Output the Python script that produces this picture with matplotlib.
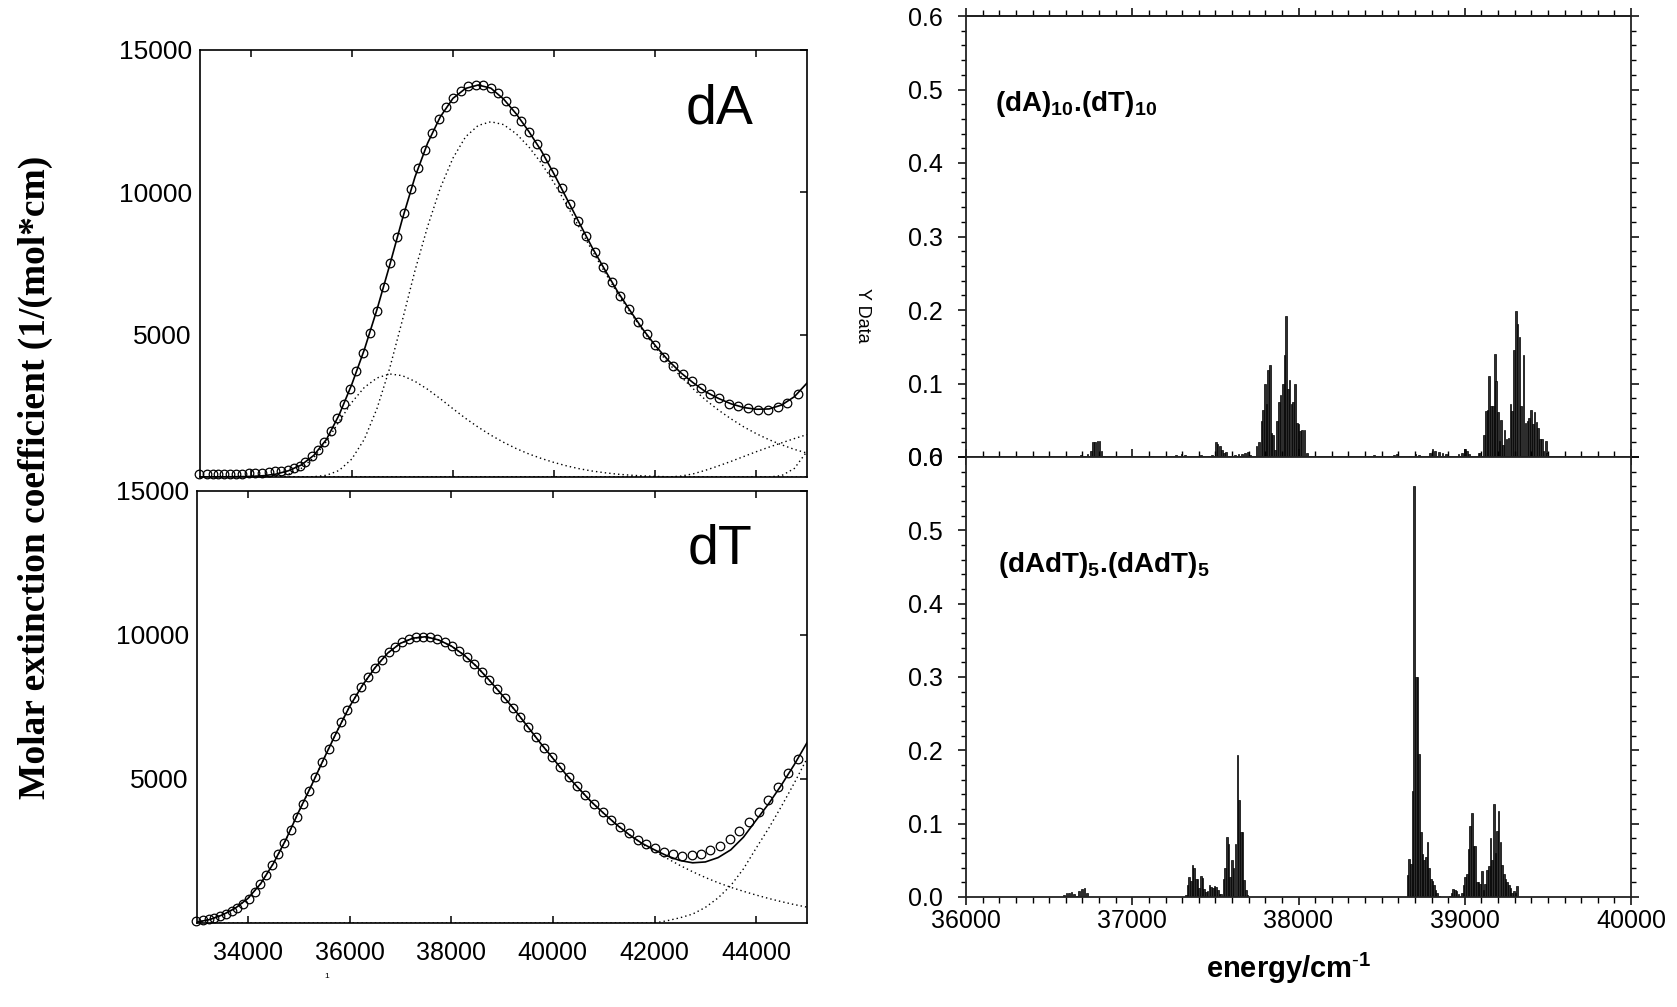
import matplotlib
matplotlib.use('Agg')
import matplotlib.pyplot as plt
from matplotlib.ticker import MultipleLocator, FormatStrFormatter

plt.rcParams['font.family'] = ['Liberation Sans', 'DejaVu Sans']
plt.rcParams['mathtext.fontset'] = 'custom'
plt.rcParams['mathtext.rm'] = 'Liberation Sans'
plt.rcParams['mathtext.bf'] = 'Liberation Sans:bold'
plt.rcParams['mathtext.it'] = 'Liberation Sans:italic'

# ---------------- data: left panels ----------------
dA_x = [32990, 33130, 33250, 33360, 33480, 33600, 33720, 33840, 33960, 34090, 34230, 34360, 34480, 34610,
        34730, 34860, 34970, 35080, 35210, 35340, 35460, 35580, 35710, 35840, 35960, 36090, 36230, 36360,
        36490, 36630, 36760, 36900, 37040, 37170, 37310, 37450, 37590, 37730, 37870, 38010, 38150, 38300,
        38450, 38600, 38750, 38900, 39050, 39200, 39350, 39510, 39670, 39830, 39980, 40150, 40310, 40470,
        40640, 40800, 40970, 41140, 41310, 41480, 41650, 41830, 42000, 42180, 42350, 42540, 42720, 42900,
        43080, 43260, 43450, 43640, 43830, 44030, 44220, 44420, 44610, 44820]
dA_y = [120, 120, 120, 120, 120, 120, 120, 120, 140, 140, 140, 160, 200, 220, 260, 310, 400, 520, 740, 950,
        1240, 1630, 2080, 2550, 3100, 3710, 4360, 5060, 5840, 6670, 7520, 8430, 9290, 10100, 10870, 11500,
        12100, 12580, 12990, 13310, 13570, 13720, 13770, 13770, 13660, 13480, 13200, 12870, 12500, 12120,
        11690, 11210, 10700, 10140, 9580, 9010, 8450, 7910, 7370, 6860, 6360, 5900, 5430, 5010, 4620, 4230,
        3900, 3620, 3360, 3130, 2930, 2780, 2580, 2490, 2410, 2370, 2370, 2470, 2600, 2930]

dT_x = [32990, 33110, 33230, 33330, 33450, 33570, 33690, 33790, 33900, 34020, 34140, 34240, 34360, 34480,
        34600, 34710, 34840, 34960, 35080, 35210, 35330, 35460, 35590, 35710, 35840, 35960, 36090, 36230,
        36360, 36500, 36630, 36770, 36900, 37040, 37170, 37310, 37440, 37580, 37720, 37870, 38010, 38150,
        38310, 38450, 38600, 38750, 38900, 39060, 39210, 39360, 39510, 39670, 39830, 39980, 40150, 40310,
        40480, 40640, 40810, 40980, 41150, 41330, 41500, 41670, 41840, 42010, 42190, 42360, 42540, 42730,
        42910, 43100, 43290, 43480, 43670, 43860, 44050, 44240, 44430, 44630, 44820]
dT_y = [60, 110, 140, 180, 240, 310, 400, 520, 660, 850, 1080, 1340, 1670, 2000, 2380, 2790, 3220, 3690,
        4140, 4600, 5080, 5580, 6050, 6490, 6970, 7400, 7810, 8180, 8530, 8850, 9140, 9400, 9590, 9740,
        9850, 9920, 9940, 9920, 9850, 9750, 9610, 9440, 9240, 9000, 8730, 8440, 8130, 7810, 7480, 7150,
        6800, 6450, 6080, 5750, 5410, 5080, 4770, 4440, 4120, 3840, 3590, 3340, 3110, 2890, 2730, 2590,
        2460, 2380, 2340, 2350, 2410, 2520, 2690, 2910, 3180, 3490, 3870, 4280, 4730, 5200, 5690]

grid = [33000, 33250, 33500, 33750, 34000, 34250, 34500, 34750, 35000, 35250, 35500, 35750, 36000, 36250,
        36500, 36750, 37000, 37250, 37500, 37750, 38000, 38250, 38500, 38750, 39000, 39250, 39500, 39750,
        40000, 40250, 40500, 40750, 41000, 41250, 41500, 41750, 42000, 42250, 42500, 42750, 43000, 43250,
        43500, 43750, 44000, 44250, 44500, 44750, 45000]

dA_fit = [0, 2, 5, 10, 20, 45, 100, 220, 420, 760, 1320, 2180, 3250, 4480, 5890, 7440, 9060, 10540, 11730,
          12650, 13300, 13650, 13770, 13660, 13280, 12760, 12140, 11450, 10640, 9780, 8920, 8070, 7290, 6530,
          5850, 5200, 4620, 4110, 3670, 3310, 2990, 2760, 2570, 2440, 2380, 2390, 2530, 2820, 3300]
dA_c1 = [0, 0, 0, 0, 0, 0, 20, 100, 300, 680, 1250, 1950, 2620, 3150, 3480, 3620, 3560, 3360, 3080, 2750,
         2400, 2060, 1750, 1470, 1220, 1000, 810, 650, 510, 390, 290, 210, 150, 100, 65, 40, 22, 10, 4, 0, 0,
         0, 0, 0, 0, 0, 0, 0, 0]
dA_c2 = [0, 0, 0, 0, 0, 0, 0, 0, 0, 10, 60, 230, 630, 1330, 2410, 3820, 5500, 7250, 8800, 10150, 11200,
         11950, 12350, 12480, 12380, 12060, 11600, 11020, 10330, 9560, 8760, 7960, 7200, 6470, 5800, 5160,
         4560, 4020, 3540, 3100, 2700, 2350, 2040, 1760, 1520, 1310, 1130, 970, 840]
dA_c3 = [0, 0, 0, 0, 0, 0, 0, 0, 0, 0, 0, 0, 0, 0, 0, 0, 0, 0, 0, 0, 0, 0, 0, 0, 0, 0, 0, 0, 0, 0, 0, 0,
         0, 0, 0, 0, 0, 0, 30, 110, 240, 390, 550, 720, 890, 1050, 1200, 1350, 1490]
dA_c4 = [0, 0, 0, 0, 0, 0, 0, 0, 0, 0, 0, 0, 0, 0, 0, 0, 0, 0, 0, 0, 0, 0, 0, 0, 0, 0, 0, 0, 0, 0, 0, 0,
         0, 0, 0, 0, 0, 0, 0, 0, 0, 0, 0, 0, 0, 0, 50, 300, 900]

dT_fit = [30, 120, 280, 510, 850, 1360, 2060, 2900, 3860, 4770, 5720, 6640, 7510, 8240, 8860, 9370, 9710,
          9890, 9940, 9830, 9620, 9310, 8910, 8430, 7920, 7400, 6830, 6260, 5720, 5180, 4690, 4220, 3810,
          3420, 3070, 2770, 2540, 2330, 2170, 2090, 2120, 2270, 2540, 2980, 3570, 4150, 4800, 5500, 6260]
dT_c1 = [30, 120, 280, 510, 850, 1360, 2060, 2900, 3860, 4770, 5720, 6640, 7510, 8240, 8860, 9370, 9710,
         9890, 9940, 9830, 9620, 9310, 8910, 8430, 7920, 7400, 6830, 6260, 5720, 5180, 4690, 4220, 3810,
         3420, 3070, 2750, 2490, 2240, 2000, 1780, 1580, 1400, 1240, 1100, 970, 850, 740, 640, 550]
dT_c2 = [0, 0, 0, 0, 0, 0, 0, 0, 0, 0, 0, 0, 0, 0, 0, 0, 0, 0, 0, 0, 0, 0, 0, 0, 0, 0, 0, 0, 0, 0, 0, 0,
         0, 0, 0, 0, 0, 80, 180, 310, 540, 870, 1300, 1880, 2600, 3300, 4060, 4860, 5710]

left_xticks = [34000, 36000, 38000, 40000, 42000, 44000]
left_yticks = [5000, 10000, 15000]

# ---------------- data: right panels (stick spectra) ----------------
top_x = [36660, 36690, 36710, 36730, 36750, 36765, 36777, 36790, 36803, 36816, 36830,
         36960, 37000, 37120, 37210, 37265, 37297, 37318, 37415, 37460, 37480,
         37502, 37513, 37526, 37539, 37552, 37563, 37620, 37640, 37660, 37680, 37697, 37708,
         37747, 37762, 37777, 37788, 37799, 37807, 37818, 37829, 37838, 37848, 37859, 37872, 37881, 37892,
         37905, 37916, 37926, 37937, 37946, 37957, 37968, 37978, 37989, 38000, 38011, 38022, 38037, 38050,
         38120, 38433, 38455, 38487, 38574, 38591, 38671, 38703, 38725, 38790, 38807, 38822, 38844, 38866,
         38887, 38909, 38963, 38985, 39002, 39013, 39024, 39039, 39082, 39093,
         39115, 39126, 39136, 39147, 39158, 39169, 39180, 39188, 39199, 39210, 39218, 39229, 39240, 39251,
         39264, 39275, 39286, 39297, 39307, 39318, 39329, 39340, 39353, 39366, 39377, 39387, 39398, 39409,
         39420, 39431, 39442, 39452, 39463, 39474, 39487, 39496]
top_y = [0.001, 0.003, 0.002, 0.004, 0.008, 0.020, 0.021, 0.022, 0.022, 0.008, 0.002,
         0.002, 0.001, 0.002, 0.002, 0.003, 0.004, 0.003, 0.003, 0.002, 0.003,
         0.021, 0.018, 0.015, 0.010, 0.005, 0.007, 0.003, 0.004, 0.004, 0.005, 0.007, 0.003,
         0.015, 0.021, 0.049, 0.064, 0.100, 0.072, 0.119, 0.125, 0.033, 0.030, 0.010, 0.049, 0.075, 0.084,
         0.100, 0.139, 0.192, 0.092, 0.105, 0.072, 0.075, 0.099, 0.046, 0.045, 0.035, 0.037, 0.037, 0.006,
         0.002, 0.002, 0.003, 0.002, 0.003, 0.004, 0.002, 0.004, 0.003, 0.005, 0.011, 0.008, 0.007, 0.006,
         0.004, 0.002, 0.004, 0.005, 0.011, 0.008, 0.004, 0.002, 0.006, 0.005,
         0.030, 0.063, 0.064, 0.110, 0.069, 0.070, 0.140, 0.103, 0.061, 0.022, 0.050, 0.016, 0.037, 0.025,
         0.026, 0.072, 0.063, 0.146, 0.198, 0.181, 0.163, 0.070, 0.139, 0.046, 0.049, 0.053, 0.064, 0.045,
         0.061, 0.047, 0.040, 0.025, 0.025, 0.008, 0.022, 0.006]

bot_x = [36588, 36604, 36619, 36635, 36650, 36666, 36681, 36697, 36712, 36728,
         37322, 37332, 37342, 37352, 37362, 37372, 37383, 37393, 37403, 37413, 37423, 37433, 37443, 37453,
         37464, 37474, 37484, 37494, 37504, 37514, 37524, 37534, 37549, 37559, 37569, 37579, 37589, 37599,
         37609, 37621, 37634, 37644, 37654, 37664, 37674, 37684, 37694,
         38655, 38665, 38675, 38685, 38695, 38705, 38715, 38725, 38735, 38745, 38755, 38765, 38775, 38785,
         38795, 38805, 38815, 38825, 38835, 38845,
         38911, 38921, 38931, 38941, 38951, 38962,
         38982, 38992, 39002, 39012, 39022, 39032, 39042, 39053, 39063, 39073, 39083, 39093, 39103, 39113,
         39123, 39134, 39144, 39154, 39164, 39174, 39184, 39194, 39204, 39215, 39225, 39235, 39245, 39255,
         39265, 39275, 39285, 39296, 39306, 39316]
bot_y = [0.003, 0.005, 0.006, 0.007, 0.004, 0.002, 0.008, 0.011, 0.012, 0.005,
         0.003, 0.016, 0.027, 0.022, 0.043, 0.040, 0.025, 0.025, 0.012, 0.028, 0.026, 0.011, 0.007, 0.008,
         0.017, 0.014, 0.012, 0.015, 0.013, 0.010, 0.004, 0.004, 0.024, 0.040, 0.082, 0.072, 0.027, 0.050,
         0.039, 0.072, 0.194, 0.132, 0.088, 0.089, 0.023, 0.009, 0.003,
         0.030, 0.052, 0.045, 0.145, 0.560, 0.300, 0.300, 0.195, 0.088, 0.058, 0.050, 0.055, 0.075, 0.040,
         0.025, 0.022, 0.016, 0.010, 0.005, 0.002,
         0.002, 0.006, 0.011, 0.010, 0.008, 0.004,
         0.005, 0.017, 0.027, 0.031, 0.065, 0.097, 0.115, 0.070, 0.069, 0.020, 0.020, 0.018, 0.035, 0.010,
         0.018, 0.037, 0.042, 0.080, 0.050, 0.127, 0.060, 0.090, 0.117, 0.075, 0.043, 0.032, 0.025, 0.020,
         0.017, 0.012, 0.006, 0.008, 0.005, 0.015]

right_xticks = [36000, 37000, 38000, 39000, 40000]
right_yticks = [0.0, 0.1, 0.2, 0.3, 0.4, 0.5, 0.6]

# ---------------- figure ----------------
W, H = 1677, 1007
fig = plt.figure(figsize=(W / 100, H / 100), dpi=100)


def rect(l, t, r, b):
    return [l / W, 1 - b / H, (r - l) / W, (b - t) / H]


axA = fig.add_axes(rect(200, 50, 807, 477))
axT = fig.add_axes(rect(197, 491, 807, 923))
axR1 = fig.add_axes(rect(966, 16, 1631, 457))
axR2 = fig.add_axes(rect(966, 457, 1631, 897))

dot = (0, (1.0, 2.2))
for ax, dx, dy, fit, comps, name, ny in [
        (axA, dA_x, dA_y, dA_fit, [dA_c1, dA_c2, dA_c3, dA_c4], 'dA', 110),
        (axT, dT_x, dT_y, dT_fit, [dT_c1, dT_c2], 'dT', 549)]:
    for c in comps:
        ax.plot(grid, c, linestyle=dot, color='black', lw=1.0)
    ax.plot(grid, fit, color='black', lw=1.2)
    ax.plot(dx, dy, 'o', mfc='none', mec='black', ms=6.2, mew=0.9, clip_on=False)
    ax.set_xlim(33000, 45000)
    ax.set_ylim(0, 15000)
    ax.set_xticks(left_xticks)
    ax.set_yticks(left_yticks)
    ax.set_yticklabels([str(v) for v in left_yticks])
    ax.tick_params(axis='x', direction='in', top=True, bottom=True, length=5, width=1.1,
                   labelsize=18, pad=13)
    ax.tick_params(axis='y', direction='in', left=False, right=True, length=5, width=1.1,
                   labelsize=19, pad=6)
    for s in ax.spines.values():
        s.set_linewidth(1.2)
    fig.text(720 / W, 1 - ny / H, name, fontsize=40, ha='center', va='center')

axA.tick_params(axis='x', labelbottom=False)

# right panels
for ax, bx, by in [(axR1, top_x, top_y), (axR2, bot_x, bot_y)]:
    ax.bar(bx, by, width=10, color='#2e2e2e', edgecolor='black', linewidth=0.5)
    ax.set_xlim(36000, 40000)
    ax.set_ylim(0, 0.6)
    ax.set_xticks(right_xticks)
    ax.xaxis.set_minor_locator(MultipleLocator(100))
    ax.set_yticks(right_yticks)
    ax.yaxis.set_major_formatter(FormatStrFormatter('%.1f'))
    ax.yaxis.set_minor_locator(MultipleLocator(0.02))
    ax.tick_params(axis='y', which='major', direction='out', left=True, right=True, length=6,
                   width=1.1, labelsize=18, pad=11)
    ax.tick_params(axis='y', which='minor', direction='out', left=True, right=True, length=3.8,
                   width=1.0)
    for s in ax.spines.values():
        s.set_linewidth(1.3)
        s.set_color('#222222')

axR1.tick_params(axis='x', which='major', direction='inout', top=False, bottom=True, length=12,
                 width=1.1, labelbottom=False)
axR1.tick_params(axis='x', which='minor', direction='inout', top=False, bottom=True, length=8,
                 width=1.0)
sec = axR1.secondary_xaxis('top')
sec.set_xticks(right_xticks)
sec.set_xticklabels([])
sec.xaxis.set_minor_locator(MultipleLocator(100))
sec.tick_params(axis='x', which='major', direction='out', length=6, width=1.1)
sec.tick_params(axis='x', which='minor', direction='out', length=4.5, width=1.0)
sec.spines['top'].set_linewidth(1.3)

axR2.tick_params(axis='x', which='major', direction='out', top=False, bottom=True, length=6,
                 width=1.1, labelsize=18, pad=3)
axR2.tick_params(axis='x', which='minor', direction='out', top=False, bottom=True, length=4,
                 width=1.0)

# texts
axR1.text(0.043, 0.80, r'$\mathbf{(dA)_{10}.\!(dT)_{10}}$', transform=axR1.transAxes, fontsize=20,
          ha='left', va='center')
axR2.text(0.048, 0.755, r'$\mathbf{(dAdT)_{5}.\!(dAdT)_{5}}$', transform=axR2.transAxes, fontsize=20,
          ha='left', va='center')
fig.text(1289 / W, 1 - 968 / H, r'$\mathbf{energy/cm^{\text{-}1}}$', fontsize=21, ha='center',
         va='center')
fig.text(862 / W, 1 - 315 / H, 'Y Data', fontsize=13, rotation=270, ha='center', va='center')
fig.text(35 / W, 1 - 477 / H, 'Molar extinction coefficient (1/(mol*cm)', rotation=90,
         family=['Liberation Serif', 'DejaVu Serif'], weight='bold', fontsize=27,
         ha='center', va='center')
fig.text(327 / W, 1 - 976 / H, '1', fontsize=6, ha='center', va='center')

fig.savefig('out.png', dpi=100)
